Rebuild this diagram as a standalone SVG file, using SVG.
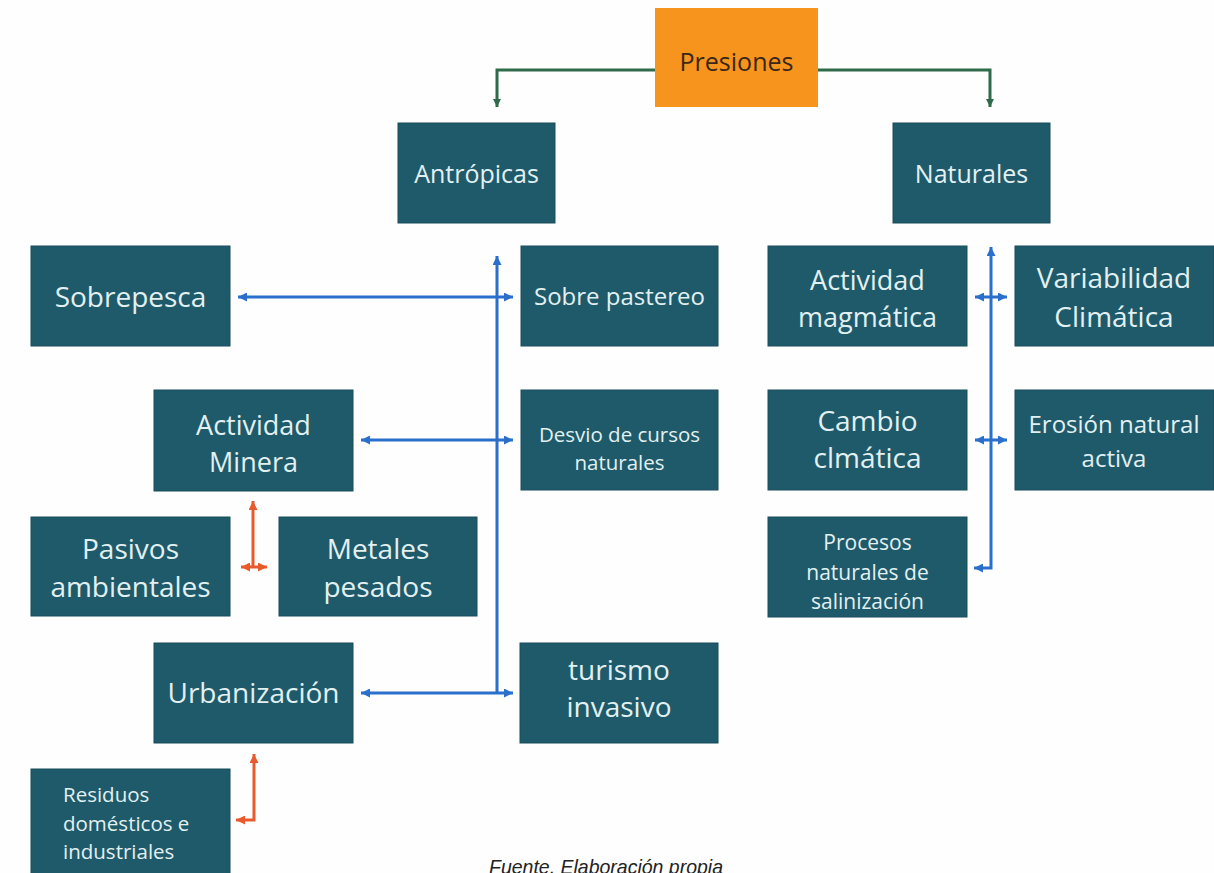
<svg xmlns="http://www.w3.org/2000/svg" width="1214" height="873" viewBox="0 0 1214 873">
  <style>
    .box { fill: #1f5a6a; stroke: #194d5b; stroke-width: 1; }
    .lbl { font-family: "Open Sans", "Noto Sans", sans-serif; fill: #e2f0f1; text-anchor: middle; }
    .root { fill: #f7941d; }
    .rootlbl { font-family: "Open Sans", "Noto Sans", sans-serif; fill: #3a2718; text-anchor: middle; font-size: 25px; }
    .green { fill: none; stroke: #2f6b4b; stroke-width: 3; }
    .blue { fill: none; stroke: #2a6fcc; stroke-width: 3; }
    .red { fill: none; stroke: #e85a2c; stroke-width: 3; }
    .caption { font-family: "Liberation Sans", Arial, sans-serif; font-style: italic; font-size: 21px; fill: #222222; }
  </style>
  <defs>
    <marker id="ahGreen" viewBox="0 0 8 8" refX="8" refY="4" markerWidth="8" markerHeight="8" markerUnits="userSpaceOnUse" orient="auto-start-reverse">
      <path d="M0,0 L8,4 L0,8 z" fill="#2f6b4b"/>
    </marker>
    <marker id="ahBlue" viewBox="0 0 8 8" refX="8" refY="4" markerWidth="9" markerHeight="9" markerUnits="userSpaceOnUse" orient="auto-start-reverse">
      <path d="M0,0 L8,4 L0,8 z" fill="#2a6fcc"/>
    </marker>
    <marker id="ahRed" viewBox="0 0 8 8" refX="8" refY="4" markerWidth="9" markerHeight="9" markerUnits="userSpaceOnUse" orient="auto-start-reverse">
      <path d="M0,0 L8,4 L0,8 z" fill="#e85a2c"/>
    </marker>
  </defs>

  <rect width="1214" height="873" fill="#fefefe"/>

  <!-- connectors -->
  <g id="connectors">
    <!-- root split -->
    <polyline class="green" points="655,70 497,70 497,107" marker-end="url(#ahGreen)"/>
    <polyline class="green" points="818,70 990,70 990,107" marker-end="url(#ahGreen)"/>

    <!-- anthropic trunk -->
    <line class="blue" x1="497" y1="693" x2="497" y2="256" marker-end="url(#ahBlue)"/>
    <line class="blue" x1="238" y1="297" x2="513" y2="297" marker-start="url(#ahBlue)" marker-end="url(#ahBlue)"/>
    <line class="blue" x1="361" y1="440" x2="513" y2="440" marker-start="url(#ahBlue)" marker-end="url(#ahBlue)"/>
    <line class="blue" x1="361" y1="693" x2="513" y2="693" marker-start="url(#ahBlue)" marker-end="url(#ahBlue)"/>

    <!-- natural trunk -->
    <polyline class="blue" points="974,568 991,568 991,247" marker-start="url(#ahBlue)" marker-end="url(#ahBlue)"/>
    <line class="blue" x1="975" y1="297" x2="1007" y2="297" marker-start="url(#ahBlue)" marker-end="url(#ahBlue)"/>
    <line class="blue" x1="975" y1="440" x2="1007" y2="440" marker-start="url(#ahBlue)" marker-end="url(#ahBlue)"/>

    <!-- mining sub-branches -->
    <line class="red" x1="253" y1="567" x2="253" y2="501" marker-end="url(#ahRed)"/>
    <line class="red" x1="241" y1="567" x2="267" y2="567" marker-start="url(#ahRed)" marker-end="url(#ahRed)"/>

    <!-- urbanisation sub-branch -->
    <polyline class="red" points="236,820 254,820 254,754" marker-start="url(#ahRed)" marker-end="url(#ahRed)"/>
  </g>

  <!-- nodes -->
  <g id="presiones">
    <rect class="root" x="655" y="8" width="163" height="99"/>
    <text class="rootlbl" x="736.5" y="71">Presiones</text>
  </g>

  <g id="antropicas">
    <rect class="box" x="398" y="123" width="157" height="100"/>
    <text class="lbl" x="476.5" y="183" font-size="25">Antrópicas</text>
  </g>

  <g id="naturales">
    <rect class="box" x="893" y="123" width="157" height="100"/>
    <text class="lbl" x="971.5" y="183" font-size="25">Naturales</text>
  </g>

  <g id="sobrepesca">
    <rect class="box" x="31" y="246" width="199" height="100"/>
    <text class="lbl" x="130.5" y="307" font-size="28">Sobrepesca</text>
  </g>

  <g id="sobre-pastereo">
    <rect class="box" x="521" y="246" width="197" height="100"/>
    <text class="lbl" x="619.5" y="305" font-size="24">Sobre pastereo</text>
  </g>

  <g id="actividad-minera">
    <rect class="box" x="154" y="390" width="199" height="101"/>
    <text class="lbl" font-size="27"><tspan x="253.5" y="435">Actividad</tspan><tspan x="253.5" y="472">Minera</tspan></text>
  </g>

  <g id="desvio">
    <rect class="box" x="521" y="390" width="197" height="100"/>
    <text class="lbl" font-size="20.5"><tspan x="619.5" y="442">Desvio de cursos</tspan><tspan x="619.5" y="470">naturales</tspan></text>
  </g>

  <g id="pasivos">
    <rect class="box" x="31" y="517" width="199" height="99"/>
    <text class="lbl" font-size="28"><tspan x="130.5" y="559">Pasivos</tspan><tspan x="130.5" y="597">ambientales</tspan></text>
  </g>

  <g id="metales">
    <rect class="box" x="279" y="517" width="198" height="99"/>
    <text class="lbl" font-size="28"><tspan x="378" y="559">Metales</tspan><tspan x="378" y="597">pesados</tspan></text>
  </g>

  <g id="urbanizacion">
    <rect class="box" x="154" y="643" width="199" height="100"/>
    <text class="lbl" x="253.5" y="703" font-size="28">Urbanización</text>
  </g>

  <g id="turismo">
    <rect class="box" x="520" y="643" width="198" height="100"/>
    <text class="lbl" font-size="28"><tspan x="619" y="680">turismo</tspan><tspan x="619" y="717">invasivo</tspan></text>
  </g>

  <g id="residuos">
    <rect class="box" x="31" y="769" width="199" height="110"/>
    <text class="lbl" font-size="20.5" style="text-anchor:start"><tspan x="63" y="802">Residuos</tspan><tspan x="63" y="830.5">domésticos e</tspan><tspan x="63" y="859">industriales</tspan></text>
  </g>

  <g id="actividad-magmatica">
    <rect class="box" x="768" y="246" width="199" height="100"/>
    <text class="lbl" font-size="27"><tspan x="867.5" y="290">Actividad</tspan><tspan x="867.5" y="327">magmática</tspan></text>
  </g>

  <g id="variabilidad">
    <rect class="box" x="1015" y="246" width="199" height="100"/>
    <text class="lbl" font-size="28"><tspan x="1114" y="288">Variabilidad</tspan><tspan x="1114" y="327">Climática</tspan></text>
  </g>

  <g id="cambio">
    <rect class="box" x="768" y="390" width="199" height="100"/>
    <text class="lbl" font-size="28"><tspan x="867.5" y="431">Cambio</tspan><tspan x="867.5" y="468">clmática</tspan></text>
  </g>

  <g id="erosion">
    <rect class="box" x="1015" y="390" width="199" height="100"/>
    <text class="lbl" font-size="24"><tspan x="1114" y="433">Erosión natural</tspan><tspan x="1114" y="467">activa</tspan></text>
  </g>

  <g id="procesos">
    <rect class="box" x="768" y="517" width="199" height="100"/>
    <text class="lbl" font-size="21"><tspan x="867.5" y="550">Procesos</tspan><tspan x="867.5" y="580">naturales de</tspan><tspan x="867.5" y="609">salinización</tspan></text>
  </g>

  <text class="caption" x="489" y="874" textLength="234" lengthAdjust="spacingAndGlyphs">Fuente. Elaboración propia</text>
</svg>
